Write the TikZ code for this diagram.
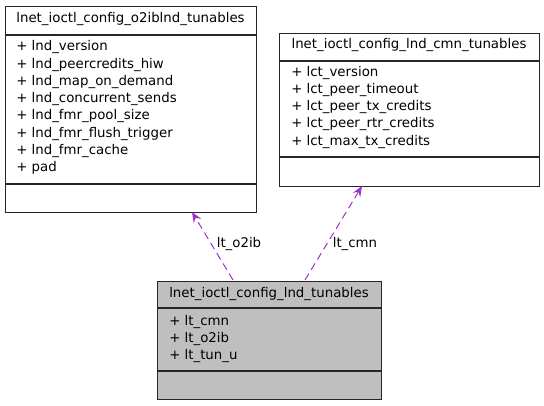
\documentclass[tikz,border=0pt]{standalone}
\usepackage{fontspec}
\setmainfont{DejaVu Sans}
\usetikzlibrary{arrows.meta}
\definecolor{usearrow}{HTML}{9A32CD}
\definecolor{boxgray}{HTML}{BFBFBF}
\tikzset{
  umlbox/.style={draw=black!85, line width=0.9pt, inner sep=0pt, anchor=north west},
  sepline/.style={draw=black!85, line width=0.9pt},
  attr/.style={anchor=west, inner sep=0pt, font=\fontsize{10pt}{12pt}\selectfont},
  ttl/.style={inner sep=0pt, font=\fontsize{10pt}{12pt}\selectfont},
  uses/.style={draw=usearrow, line width=0.75pt, dash pattern=on 5.5pt off 3.5pt, -{Stealth[length=8pt, width=6.5pt, inset=3pt]}},
  lbl/.style={inner sep=0pt, font=\fontsize{10pt}{12pt}\selectfont}
}
\begin{document}
\begin{tikzpicture}[x=0.75pt, y=-0.75pt]
\useasboundingbox (0,0) rectangle (544,405);
% box 1
\node[umlbox, minimum width=188.25pt, minimum height=154.5pt] (o2ib) at (5,6) {};
\coordinate (o2ibs1) at (5,35);
\coordinate (o2ibs1e) at (256,35);
\coordinate (o2ibs2) at (5,184);
\coordinate (o2ibs2e) at (256,184);
\draw[sepline] (o2ibs1) -- (o2ibs1e);
\draw[sepline] (o2ibs2) -- (o2ibs2e);
\node[ttl] (o2ibt) at (130.5,19.5) {lnet\_ioctl\_config\_o2iblnd\_tunables};
\node[attr] (a1) at (16,47.3) {+ lnd\_version};
\node[attr] (a2) at (16,64.5) {+ lnd\_peercredits\_hiw};
\node[attr] (a3) at (16,81.7) {+ lnd\_map\_on\_demand};
\node[attr] (a4) at (16,99) {+ lnd\_concurrent\_sends};
\node[attr] (a5) at (16,116.3) {+ lnd\_fmr\_pool\_size};
\node[attr] (a6) at (16,133.6) {+ lnd\_fmr\_flush\_trigger};
\node[attr] (a7) at (16,150.9) {+ lnd\_fmr\_cache};
\node[attr] (a8) at (16,168) {+ pad};
% box 2
\node[umlbox, minimum width=195pt, minimum height=114.75pt] (cmn) at (279,33) {};
\coordinate (cmns1) at (279,61);
\coordinate (cmns1e) at (539,61);
\coordinate (cmns2) at (279,157);
\coordinate (cmns2e) at (539,157);
\draw[sepline] (cmns1) -- (cmns1e);
\draw[sepline] (cmns2) -- (cmns2e);
\node[ttl] (cmnt) at (409,45.5) {lnet\_ioctl\_config\_lnd\_cmn\_tunables};
\node[attr] (b1) at (291,72.7) {+ lct\_version};
\node[attr] (b2) at (291,89.9) {+ lct\_peer\_timeout};
\node[attr] (b3) at (291,107.2) {+ lct\_peer\_tx\_credits};
\node[attr] (b4) at (291,124.5) {+ lct\_peer\_rtr\_credits};
\node[attr] (b5) at (291,141.8) {+ lct\_max\_tx\_credits};
% box 3
\node[umlbox, fill=boxgray, minimum width=168pt, minimum height=88.5pt] (main) at (157,281) {};
\coordinate (mains1) at (157,308);
\coordinate (mains1e) at (381,308);
\coordinate (mains2) at (157,371);
\coordinate (mains2e) at (381,371);
\draw[sepline] (mains1) -- (mains1e);
\draw[sepline] (mains2) -- (mains2e);
\node[ttl] (maint) at (269,294) {lnet\_ioctl\_config\_lnd\_tunables};
\node[attr] (c1) at (169,321.7) {+ lt\_cmn};
\node[attr] (c2) at (169,339) {+ lt\_o2ib};
\node[attr] (c3) at (169,356.2) {+ lt\_tun\_u};
% connectors
\coordinate (o2ibsrc) at (233,280);
\coordinate (o2ibdst) at (192,212);
\coordinate (cmnsrc) at (305,280);
\coordinate (cmndst) at (362,186);
\draw[uses] (o2ibsrc) -- (o2ibdst);
\draw[uses] (cmnsrc) -- (cmndst);
\node[lbl] (l1) at (239,244.5) {lt\_o2ib};
\node[lbl] (l2) at (355,244.5) {lt\_cmn};
\end{tikzpicture}
\end{document}
